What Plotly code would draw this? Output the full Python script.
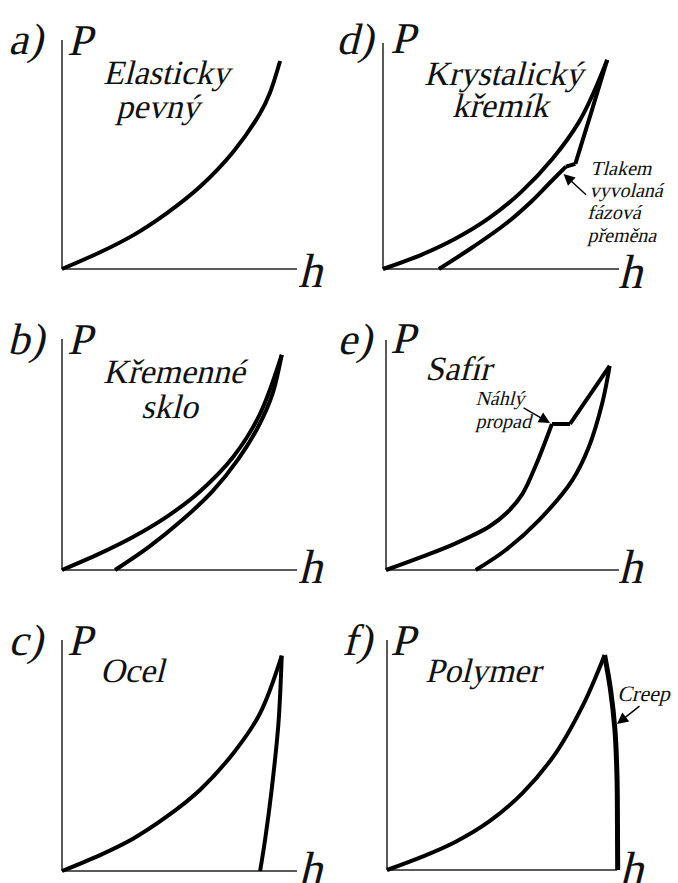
import plotly.graph_objects as go

W, H = 678, 883

# ---- load (P) vs. depth (h) curves, both in % of the drawn axis length ----
# a) elastic solid
a_load_h = [0, 16.2, 30.4, 44.5, 58.7, 72.9, 84.3, 88.5, 92.8]
a_load_P = [0, 7.3, 14.8, 24.3, 35.9, 51.2, 68.0, 77.0, 90.8]

# b) fused silica
b_load_h = [0, 16.2, 30.4, 44.5, 58.7, 72.9, 84.0, 93.5]
b_load_P = [0, 7.2, 14.4, 23.0, 34.0, 49.0, 67.0, 93.1]
b_unload_h = [22.6, 37.0, 51.0, 64.0, 75.0, 84.0, 89.5, 93.5]
b_unload_P = [0, 10.0, 21.5, 34.0, 48.0, 63.0, 76.0, 93.1]

# c) steel
c_load_h = [0, 16.2, 30.4, 44.5, 58.7, 72.9, 84.3, 93.5]
c_load_P = [0, 6.9, 14.1, 23.5, 35.1, 51.0, 68.3, 93.2]
c_unload_h = [93.5, 92.1, 89.2, 86.4, 84.3]
c_unload_P = [93.2, 63.9, 35.1, 13.4, 0]

# d) crystalline silicon (pop-out step on unloading)
d_load_h = [0, 16.7, 30.8, 44.9, 58.5, 72.0, 83.0, 89.0, 95.0]
d_load_P = [0, 6.5, 13.5, 22.5, 34.0, 49.0, 65.0, 77.5, 92.5]
d_unload_top_h = [95.0, 88.3, 81.5]
d_unload_top_P = [92.5, 69.5, 46.5]
d_step_h = [81.5, 77.5]
d_step_P = [46.5, 45.3]
d_unload_low_h = [77.5, 71.0, 63.0, 52.0, 37.8, 23.7]
d_unload_low_P = [45.3, 38.5, 30.0, 20.0, 9.5, 0]

# e) sapphire (pop-in on loading)
e_load_low_h = [0, 15.6, 29.9, 44.2, 52.0, 58.5, 64.5, 71.2]
e_load_low_P = [0, 5.8, 11.6, 18.8, 25.0, 33.0, 46.0, 63.5]
e_step_h = [71.2, 79.0]
e_step_P = [63.5, 63.5]
e_load_top_h = [79.0, 96.0]
e_load_top_P = [63.5, 88.7]
e_unload_h = [96.0, 92.8, 87.1, 80.0, 65.7, 51.4, 38.5]
e_unload_P = [88.7, 72.5, 53.6, 39.1, 21.7, 8.7, 0]

# f) polymer (creep at peak load)
f_load_h = [0, 15.4, 29.9, 44.3, 58.8, 73.3, 84.9, 91.4, 94.6]
f_load_P = [0, 5.8, 12.3, 21.0, 33.3, 50.7, 71.0, 85.5, 93.5]
f_creep_h = [94.6, 97.2, 99.1, 100.0, 100.2, 100.3]
f_creep_P = [93.5, 78.3, 60.9, 40.6, 20.3, 0]

# ---- layout: pixel frame of each panel (y-axis x, x-axis end, x-axis y, y-axis top)
PANELS = {
    "a": (62, 297, 269, 40),
    "b": (62, 297, 570, 339),
    "c": (62, 297, 871, 640),
    "d": (383, 619, 269, 43),
    "e": (386, 619, 570, 340),
    "f": (387, 617, 870, 640),
}
ORDER = ["a", "b", "c", "d", "e", "f"]
LO, HI = -3, 106
FONT = "Liberation Serif"
INK = "#111111"
AXIS_COLOR = "#5a5a5a"

fig = go.Figure()
layout = dict(
    width=W, height=H, margin=dict(l=0, r=0, t=0, b=0),
    paper_bgcolor="white", plot_bgcolor="rgba(0,0,0,0)",
    showlegend=False, shapes=[], annotations=[],
)

axref = {}
for i, key in enumerate(ORDER, start=1):
    x0, x1, yb, yt = PANELS[key]
    sx = (x1 - x0) / 100.0
    sy = (yb - yt) / 100.0
    xd = [(x0 + LO * sx) / W, (x0 + HI * sx) / W]
    yd = [1 - (yb - LO * sy) / H, 1 - (yb - HI * sy) / H]
    sfx = "" if i == 1 else str(i)
    layout["xaxis" + sfx] = dict(domain=xd, range=[LO, HI], visible=False,
                                 anchor="y" + sfx, fixedrange=True)
    layout["yaxis" + sfx] = dict(domain=yd, range=[LO, HI], visible=False,
                                 anchor="x" + sfx, fixedrange=True)
    xr, yr = "x" + sfx, "y" + sfx
    axref[key] = (xr, yr)
    # L-shaped axes
    for (ax0, ay0, ax1, ay1) in [(0, 0, 100, 0), (0, 0, 0, 100)]:
        layout["shapes"].append(dict(type="line", xref=xr, yref=yr,
                                     x0=ax0, y0=ay0, x1=ax1, y1=ay1,
                                     line=dict(color=AXIS_COLOR, width=2),
                                     layer="below"))


def curve(key, h, p, shape="spline", width=4):
    xr, yr = axref[key]
    fig.add_trace(go.Scatter(
        x=h, y=p, mode="lines", xaxis=xr, yaxis=yr, hoverinfo="skip",
        line=dict(color="black", width=width, shape=shape),
    ))


curve("a", a_load_h, a_load_P)
curve("b", b_load_h, b_load_P)
curve("b", b_unload_h, b_unload_P)
curve("c", c_load_h, c_load_P)
curve("c", c_unload_h, c_unload_P)
curve("d", d_load_h, d_load_P)
curve("d", d_unload_top_h, d_unload_top_P)
curve("d", d_step_h, d_step_P, shape="linear")
curve("d", d_unload_low_h, d_unload_low_P)
curve("e", e_load_low_h, e_load_low_P)
curve("e", e_step_h, e_step_P, shape="linear")
curve("e", e_load_top_h, e_load_top_P, shape="linear")
curve("e", e_unload_h, e_unload_P)
curve("f", f_load_h, f_load_P)
curve("f", f_creep_h, f_creep_P, width=5)


def label(s, cx, base, size, anchor="center"):
    yc = base - 0.3375 * size
    layout["annotations"].append(dict(
        text=s, x=cx / W, y=1 - yc / H, xref="paper", yref="paper",
        xanchor=anchor, yanchor="middle", showarrow=False,
        font=dict(family=FONT, size=size, color=INK),
    ))


# panel letters, axis names
for s, cx, base in [("a)", 29, 54), ("b)", 29, 354), ("c)", 29, 655),
                    ("d)", 358, 54), ("e)", 358, 354), ("f)", 360, 655)]:
    label(s, cx, base, 44)
for cx, base in [(83, 55), (83, 354), (83, 655), (406, 53), (406, 353), (406, 655)]:
    label("P", cx, base, 44)
for cx, base in [(314, 287), (314, 583), (314, 885), (634, 288), (634, 583), (635, 885)]:
    label("h", cx, base, 48)

# material names
for s, cx, base in [("Elasticky", 169, 84), ("pevný", 160, 118),
                    ("Křemenné", 177, 383), ("sklo", 172, 418),
                    ("Ocel", 135, 682),
                    ("Krystalický", 506, 85), ("křemík", 503, 117),
                    ("Safír", 461, 380),
                    ("Polymer", 486, 682)]:
    label(s, cx, base, 34)

# side notes
for s, lx, base in [("Tlakem", 590, 175), ("vyvolaná", 589, 197),
                    ("fázová", 587, 219), ("přeměna", 587, 242)]:
    label(s, lx, base, 20, anchor="left")
for s, lx, base in [("Náhlý", 475, 405), ("propad", 475, 428)]:
    label(s, lx, base, 20, anchor="left")
label("Creep", 617, 701, 22, anchor="left")

# pointer arrows (tip in data units, tail offset in px)
for key, tx, ty, dx, dy in [("d", 76.5, 42.0, 24, 22),
                            ("e", 70.4, 63.9, -28, -16),
                            ("f", 100.0, 63.5, 24, -19)]:
    xr, yr = axref[key]
    layout["annotations"].append(dict(
        text="", x=tx, y=ty, xref=xr, yref=yr, ax=dx, ay=dy,
        showarrow=True, arrowhead=2, arrowsize=1.6, arrowwidth=1.4,
        arrowcolor="black", standoff=0,
    ))

fig.update_layout(**layout)

# the serif face ships without an italic cut here, so slant the labels
SLANT_CSS = (
    "<style>.annotation-text{transform-box:fill-box;transform-origin:50% 50%;"
    "transform:skewX(-14deg);}</style>"
)
post = "document.head.insertAdjacentHTML('beforeend', '" + SLANT_CSS + "');"
fig.write_html("out.html", post_script=post)
